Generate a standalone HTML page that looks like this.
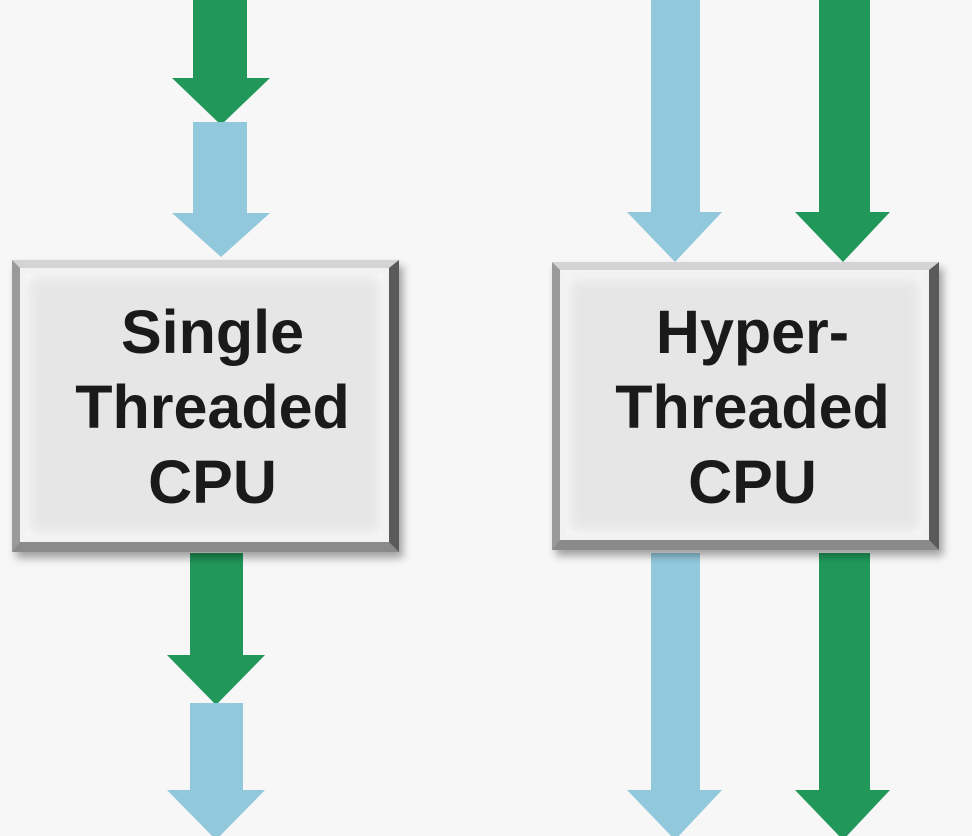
<!DOCTYPE html>
<html><head><meta charset="utf-8"><style>
html,body{margin:0;padding:0;background:#f7f7f7;}
body{width:972px;height:836px;position:relative;overflow:hidden;}
svg{position:absolute;left:0;top:0;}
.box{position:absolute;box-sizing:border-box;background:#e6e6e6;
border-top:8px solid #d4d4d4;border-left:8px solid #9a9a9a;border-right:10px solid #5a5a5a;border-bottom:10px solid #8a8a8a;
box-shadow:4px 6px 8px rgba(0,0,0,0.35), inset 0 0 0 6px #f2f2f2, inset 0 0 14px 8px #fafafa;
font-family:"Liberation Sans",sans-serif;font-weight:bold;font-size:61px;line-height:75px;color:#1a1a1a;text-align:center;
display:flex;align-items:center;justify-content:center;padding-left:16px;padding-top:4px;}
</style></head><body>
<svg width="972" height="836">
<g fill="#21985a">
<polygon points="193,0 247,0 247,78 270,78 221,125 172,78 193,78"/>
<polygon points="190,553 243,553 243,655 265,655 216,705 167,655 190,655"/>
<polygon points="819,0 870,0 870,212 890,212 843,262 795,212 819,212"/>
<polygon points="819,553 870,553 870,790 890,790 843,840 795,790 819,790"/>
</g>
<g fill="#92c8dc">
<polygon points="193,122 247,122 247,213 270,213 221,257 172,213 193,213"/>
<polygon points="190,703 243,703 243,790 265,790 216,840 167,790 190,790"/>
<polygon points="651,0 700,0 700,212 722,212 675,262 627,212 651,212"/>
<polygon points="651,553 700,553 700,790 722,790 675,840 627,790 651,790"/>
</g>
</svg>
<div class="box" style="left:12px;top:260px;width:387px;height:292px;">Single<br>Threaded<br>CPU</div>
<div class="box" style="left:552px;top:262px;width:387px;height:288px;">Hyper-<br>Threaded<br>CPU</div>
</body></html>
